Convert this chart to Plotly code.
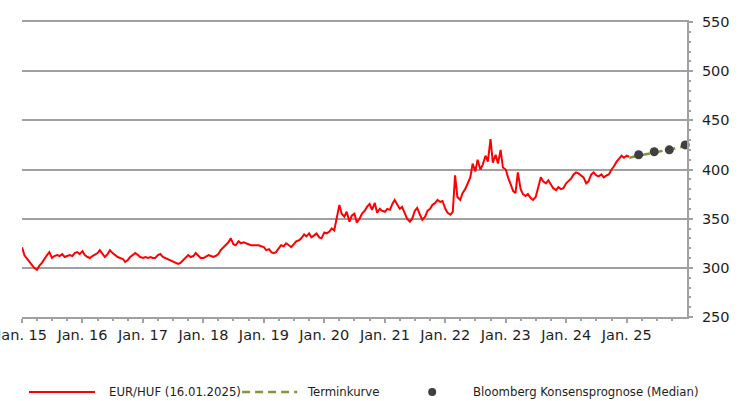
import pandas as pd
import plotly.graph_objects as go

# EUR/HUF, semi-monthly readings (1st and 15th of each month), Jan 2015 - Jan 2025
eurhuf_values = [
    # 2015
    321, 313, 309, 306, 304, 300, 298, 302, 305, 309, 313, 316,
    310, 312, 313, 312, 314, 311, 312, 313, 312, 315, 316, 314,
    # 2016
    317, 313, 311, 310, 312, 313, 315, 318, 314, 311, 314, 318,
    315, 313, 311, 310, 309, 306, 308, 311, 313, 315, 313, 311,
    # 2017
    310, 311, 310, 311, 310, 310, 313, 314, 311, 310, 309, 308,
    307, 306, 304, 305, 308, 310, 313, 311, 312, 315, 312, 310,
    # 2018
    310, 311, 313, 312, 311, 312, 314, 318, 321, 323, 326, 330,
    324, 323, 327, 325, 326, 325, 324, 323, 323, 323, 323, 322,
    # 2019
    321, 318, 319, 316, 315, 316, 320, 323, 322, 325, 323, 321,
    324, 327, 328, 330, 334, 332, 335, 331, 333, 335, 331, 330,
    # 2020
    336, 335, 337, 340, 338, 350, 364, 355, 352, 357, 347, 353,
    355, 346, 350, 355, 358, 362, 365, 359, 366, 356, 360, 358,
    # 2021
    357, 360, 359, 365, 369, 365, 360, 362, 355, 350, 347, 350,
    358, 361, 354, 349, 352, 358, 360, 364, 366, 369, 367, 368,
    # 2022
    360, 356, 354, 357, 394, 372, 369, 376, 380, 386, 392, 406,
    398, 410, 400, 405, 414, 408, 431, 407, 415, 406, 420, 402,
    # 2023
    400, 392, 385, 378, 376, 397, 380, 375, 373, 375, 371, 369,
    372, 380, 392, 388, 386, 389, 384, 381, 379, 382, 380, 381,
    # 2024
    386, 388, 391, 395, 397, 396, 394, 392, 386, 388, 395, 397,
    394, 393, 395, 392, 394, 395, 400, 403, 408, 411, 414, 412,
    # 2025
    414, 413,
]
eurhuf_dates = pd.date_range("2015-01-01", periods=len(eurhuf_values), freq="SMS")

forward_dates = ["2025-01-16", "2025-12-31"]
forward_values = [412, 424]

consensus_dates = ["2025-03-14", "2025-06-16", "2025-09-15", "2025-12-20"]
consensus_values = [415, 418, 420, 425]

tick_dates = [f"{y}-01-01" for y in range(2015, 2026)]
tick_labels = [f"Jan. {str(y)[2:]}" for y in range(2015, 2026)]

legend_labels = ["EUR/HUF (16.01.2025)", "Terminkurve", "Bloomberg Konsensprognose (Median)"]

RED = "#FF0000"
GREEN = "#7A9A3C"
DOT = "#404040"
GRID = "#A0A0A0"
TXT = "#1E1E1E"
FONT = "DejaVu Sans"
LFONT = "DejaVu Sans Condensed, DejaVu Sans, sans-serif"

fig = go.Figure()
fig.add_trace(go.Scatter(x=eurhuf_dates, y=eurhuf_values, mode="lines",
                         line=dict(color=RED, width=2), name=legend_labels[0]))
fig.add_trace(go.Scatter(x=forward_dates, y=forward_values, mode="lines",
                         line=dict(color=GREEN, width=2.5, dash="8px,5px"),
                         name=legend_labels[1]))
fig.add_trace(go.Scatter(x=consensus_dates, y=consensus_values, mode="markers",
                         marker=dict(color=DOT, size=9), cliponaxis=False,
                         name=legend_labels[2]))

# manual legend below the plot
ly = -0.254
def px(xpix):
    return (xpix - 22) / 664.7

fig.add_shape(type="line", xref="paper", yref="paper", x0=px(29), x1=px(95), y0=ly, y1=ly,
              line=dict(color=RED, width=2))
fig.add_shape(type="line", xref="paper", yref="paper", x0=px(242), x1=px(297), y0=ly, y1=ly,
              line=dict(color=GREEN, width=2.5, dash="8px,5px"))
fig.add_shape(type="circle", xref="paper", yref="paper", x0=px(428), x1=px(436),
              y0=ly - 4 / 295, y1=ly + 4 / 295, fillcolor=DOT, line=dict(color=DOT, width=0))
for xp, txt in [(107, legend_labels[0]), (305, legend_labels[1]), (471, legend_labels[2])]:
    fig.add_annotation(xref="paper", yref="paper", x=px(xp), y=ly, text=txt, showarrow=False,
                       xanchor="left", yanchor="middle",
                       font=dict(family=LFONT, size=13, color=TXT))

fig.update_layout(
    width=740, height=401,
    margin=dict(l=22, r=53, t=22, b=84, autoexpand=False),
    paper_bgcolor="white", plot_bgcolor="white",
    showlegend=False,
    font=dict(family=FONT, size=14.5, color=TXT),
)
fig.update_xaxes(
    range=["2014-12-31 18:00", "2025-12-31"],
    tickvals=tick_dates, ticktext=tick_labels,
    ticklabeloverflow="allow", automargin=False,
    showgrid=False, zeroline=False,
    showline=True, linecolor=GRID, linewidth=2, mirror=True,
    ticks="outside", ticklen=4, tickwidth=2, tickcolor=GRID,
    minor=dict(tick0="2015-01-01", dtick="M3", ticks="outside", ticklen=2,
               tickwidth=1.5, tickcolor=GRID, showgrid=False),
    tickfont=dict(family=FONT, size=14.5, color=TXT),
)
fig.update_yaxes(
    range=[250, 550], side="right", automargin=False,
    tickvals=[250, 300, 350, 400, 450, 500, 550],
    showgrid=True, gridcolor=GRID, gridwidth=2, zeroline=False,
    showline=True, linecolor=GRID, linewidth=2,
    ticks="outside", ticklen=4, tickwidth=2, tickcolor=GRID,
    ticklabelstandoff=6,
    minor=dict(dtick=10, ticks="outside", ticklen=2, tickwidth=1.5,
               tickcolor=GRID, showgrid=False),
    tickfont=dict(family=FONT, size=14.5, color=TXT),
)

fig.write_html("out.html", config={"displayModeBar": False},
               post_script="document.body.style.margin='0';")
